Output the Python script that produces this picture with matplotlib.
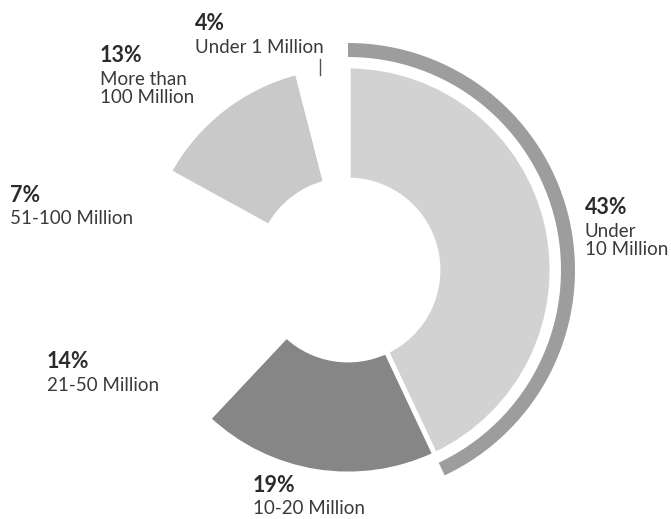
import matplotlib
matplotlib.use("Agg")
import matplotlib.pyplot as plt

plt.rcParams['font.family'] = ['Lato', 'DejaVu Sans']

categories = ["Under 10 Million", "10-20 Million", "21-50 Million",
              "51-100 Million", "More than 100 Million", "Under 1 Million"]
shares = [43, 19, 14, 7, 13, 4]
colors = ["#d2d2d2", "#868686", "none", "none", "#c9c9c9", "none"]

# highlighted share (outer ring)
highlight = [43, 57]
highlight_colors = ["#9d9d9d", "none"]

W, H = 671, 519
fig = plt.figure(figsize=(W / 100, H / 100), dpi=100)
ax = fig.add_axes([0, 0, 1, 1])

cx, cy = 348, H - 270
ax.pie(shares, colors=colors, startangle=90, counterclock=False,
       center=(cx, cy), radius=204,
       wedgeprops=dict(width=114, edgecolor="white", linewidth=3.5))
ax.pie(highlight, colors=highlight_colors, startangle=90, counterclock=False,
       center=(cx, cy), radius=227,
       wedgeprops=dict(width=14, edgecolor="none"))

ax.set_xlim(0, W)
ax.set_ylim(0, H)
ax.set_aspect("equal")
ax.axis("off")

txt = "#2b2b2b"
label_text = ["Under\n10 Million", "10-20 Million", "21-50 Million",
              "51-100 Million", "More than\n100 Million", "Under 1 Million"]
label_x = [585, 253, 47, 10, 100, 195]
label_y = [208, 485, 362, 195, 56, 24]
for pct, name, x, y in zip(shares, label_text, label_x, label_y):
    ax.text(x, H - y, f"{pct}%", fontsize=15.5, fontweight="bold", color=txt,
            ha="left", va="center")
    ax.text(x, H - y - 15, name, fontsize=13.5, fontweight="normal", color="#3a3a3a",
            ha="left", va="top", linespacing=1.1)

# leader line for the small slice
ax.plot([320, 320], [H - 59, H - 75], color="#555555", lw=1)

fig.savefig("out.png", dpi=100)
